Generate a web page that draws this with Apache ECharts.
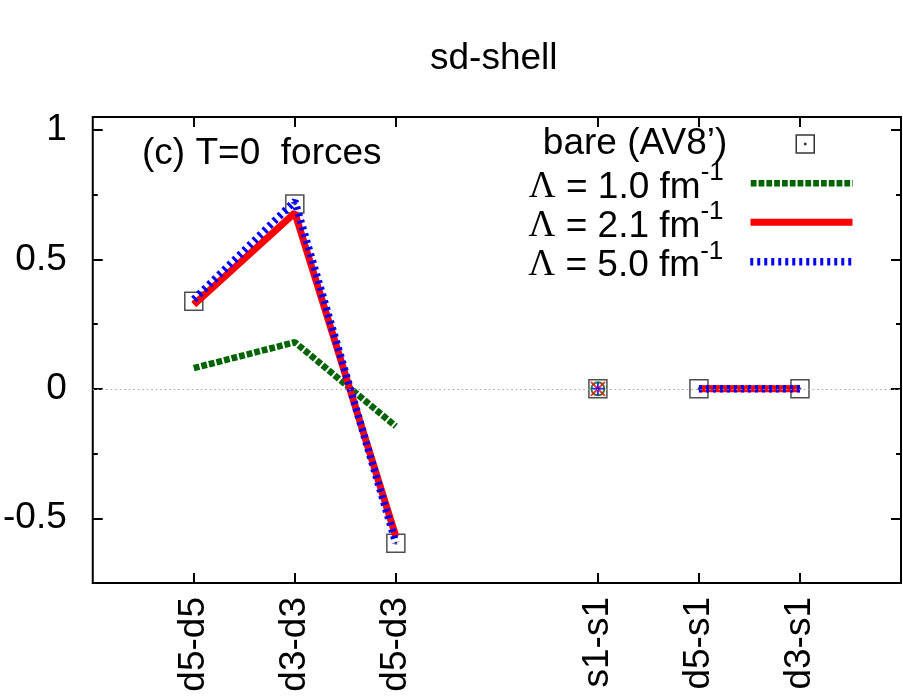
<!DOCTYPE html>
<html>
<head>
<meta charset="utf-8">
<script src="https://cdn.jsdelivr.net/npm/echarts@6/dist/echarts.min.js"></script>
<style>
html, body { margin: 0; padding: 0; background: #fff; }
#plot { width: 903px; height: 700px; }
</style>
</head>
<body>
<div id="plot"></div>
<script>
// orbital pairs and where they sit on the x axis (gap between the d and s groups)
const pairs = ['d5-d5', 'd3-d3', 'd5-d3', 's1-s1', 'd5-s1', 'd3-s1'];
const pairPos = [1, 2, 3, 5, 6, 7];
const isolatedPair = 's1-s1';

const bareName = 'bare (AV8\u2019)';
const bareVals = [0.338, 0.714, -0.596, 0, 0, 0];

const lambdaCuts = ['1.0', '2.1', '5.0'];
const lam10Vals = [0.08, 0.18, -0.145, 0, 0, 0];
const lam21Vals = [0.325, 0.68, -0.57, 0, 0, 0];
const lam50Vals = [0.345, 0.725, -0.595, 0, 0, 0];

const yMajorTicks = [-0.5, 0, 0.5, 1];
const yMinorTicks = [-0.25, 0.25, 0.75];

const FONT = "'Liberation Sans', Arial, sans-serif";
const squareSym = 'path://M0,0H20V20H0Z M9.4,9.4H10.6V10.6H9.4Z';
const isoIdx = pairs.indexOf(isolatedPair);

const lamStyles = [
    { color: '#006400', width: 6.5, type: [5.8, 2], marker: 'circle', markerSize: 13 },
    { color: '#ff0000', width: 7, type: 'solid', marker: 'path://M0,0L10,10M10,0L0,10', markerSize: 14 },
    { color: '#0000ff', width: 7.5, type: [3, 4], marker: 'path://M5,0V10M0,5H10', markerSize: 13 }
];
const lamVals = [lam10Vals, lam21Vals, lam50Vals];
const lamName = (c) => '\u039b = ' + c + ' fm-1';

var chart = echarts.init(document.getElementById('plot'));

var series = [{
    name: bareName,
    type: 'scatter',
    data: bareVals.map(function (v, i) { return [pairPos[i], v]; }),
    symbol: squareSym,
    symbolSize: 18,
    itemStyle: { color: 'transparent', borderColor: '#222', borderWidth: 1.5 },
    z: 1,
    markLine: {
        silent: true,
        symbol: 'none',
        label: { show: false },
        lineStyle: { color: '#a0a0a0', width: 1.2, type: [1.5, 3] },
        data: [{ yAxis: 0 }]
    }
}];

lamVals.forEach(function (vals, k) {
    var st = lamStyles[k];
    series.push({
        name: lamName(lambdaCuts[k]),
        type: 'line',
        // the isolated pair becomes a gap so the line breaks there
        data: vals.map(function (v, i) { return [pairPos[i], i === isoIdx ? '-' : v]; }),
        symbol: 'none',
        connectNulls: false,
        lineStyle: { color: st.color, width: st.width, type: st.type, cap: 'butt' },
        itemStyle: { color: st.color },
        z: 2
    });
});
lamVals.forEach(function (vals, k) {
    var st = lamStyles[k];
    series.push({
        name: 'marker ' + lambdaCuts[k],
        type: 'scatter',
        data: [[pairPos[isoIdx], vals[isoIdx]]],
        symbol: st.marker,
        symbolSize: st.markerSize,
        itemStyle: { color: 'none', borderColor: st.color, borderWidth: 2 },
        z: 3
    });
});

function lambdaLegend(k, top) {
    var st = lamStyles[k];
    return {
        data: [lamName(lambdaCuts[k])],
        top: top, right: 47, orient: 'vertical', align: 'right', padding: 0,
        itemWidth: 102, itemHeight: 18, selectedMode: false,
        lineStyle: { width: st.width },
        itemStyle: { opacity: 0, borderWidth: 0 },
        formatter: function () {
            return '{l|\u039b}{t| = ' + lambdaCuts[k] + ' fm}{s|-1}';
        },
        textStyle: {
            fontSize: 37, lineHeight: 37, color: '#000', fontFamily: FONT,
            padding: [8, 22, 0, 0],
            rich: {
                l: { fontFamily: "'Liberation Serif', 'DejaVu Serif', serif", fontSize: 37, lineHeight: 37, color: '#000' },
                t: { fontFamily: FONT, fontSize: 37, lineHeight: 37, color: '#000' },
                s: { fontFamily: FONT, fontSize: 26, lineHeight: 10, padding: [0, 0, 28, 0], color: '#000' }
            }
        }
    };
}

function yAx(pos, ticks, len, labels) {
    return {
        type: 'value', min: -0.75, max: 1.05, position: pos,
        axisLine: { show: false, onZero: false },
        splitLine: { show: false },
        axisTick: { show: true, inside: true, length: len, customValues: ticks, lineStyle: { color: '#000', width: 2 } },
        axisLabel: labels
            ? { show: true, customValues: ticks, margin: 26, fontSize: 37, color: '#000', fontFamily: FONT }
            : { show: false }
    };
}

function xAx(pos, labels) {
    return {
        type: 'value', min: 0, max: 8, position: pos,
        axisLine: { show: true, onZero: false, lineStyle: { color: '#000', width: 2 } },
        splitLine: { show: false },
        axisTick: { show: true, inside: true, length: 10, customValues: pairPos, lineStyle: { color: '#000', width: 2 } },
        axisLabel: labels
            ? { show: true, customValues: pairPos, rotate: 90, margin: 14, fontSize: 37, color: '#000', fontFamily: FONT,
                formatter: function (v) { return pairs[pairPos.indexOf(v)]; } }
            : { show: false }
    };
}

chart.setOption({
    animation: false,
    backgroundColor: '#fff',
    title: [{
        text: 'sd-shell', left: 430, top: 40, padding: 0,
        textStyle: { fontSize: 37, lineHeight: 37, fontWeight: 'normal', color: '#000', fontFamily: FONT }
    }, {
        text: '(c) T=0  forces', left: 142, top: 135.7, padding: 0,
        textStyle: { fontSize: 37, lineHeight: 37, fontWeight: 'normal', color: '#000', fontFamily: FONT }
    }],
    legend: [{
        data: [bareName],
        top: 125.5, right: 88, orient: 'vertical', align: 'right', padding: 0,
        itemWidth: 102, itemHeight: 18, selectedMode: false,
        itemStyle: { color: 'transparent', borderColor: '#000', borderWidth: 1.5 },
        textStyle: { fontSize: 37, lineHeight: 37, color: '#000', fontFamily: FONT, padding: [0, 22, 0, 0] }
    },
        lambdaLegend(0, 160.3),
        lambdaLegend(1, 199.3),
        lambdaLegend(2, 238.7)
    ],
    grid: {
        left: 89, right: 2, top: 117, bottom: 117,
        show: true, borderColor: '#000', borderWidth: 2, backgroundColor: 'transparent'
    },
    xAxis: [xAx('bottom', true), xAx('top', false)],
    yAxis: [
        yAx('left', yMajorTicks, 10, true),
        yAx('left', yMinorTicks, 5, false),
        yAx('right', yMajorTicks, 10, false),
        yAx('right', yMinorTicks, 5, false)
    ],
    series: series
});
</script>
</body>
</html>
